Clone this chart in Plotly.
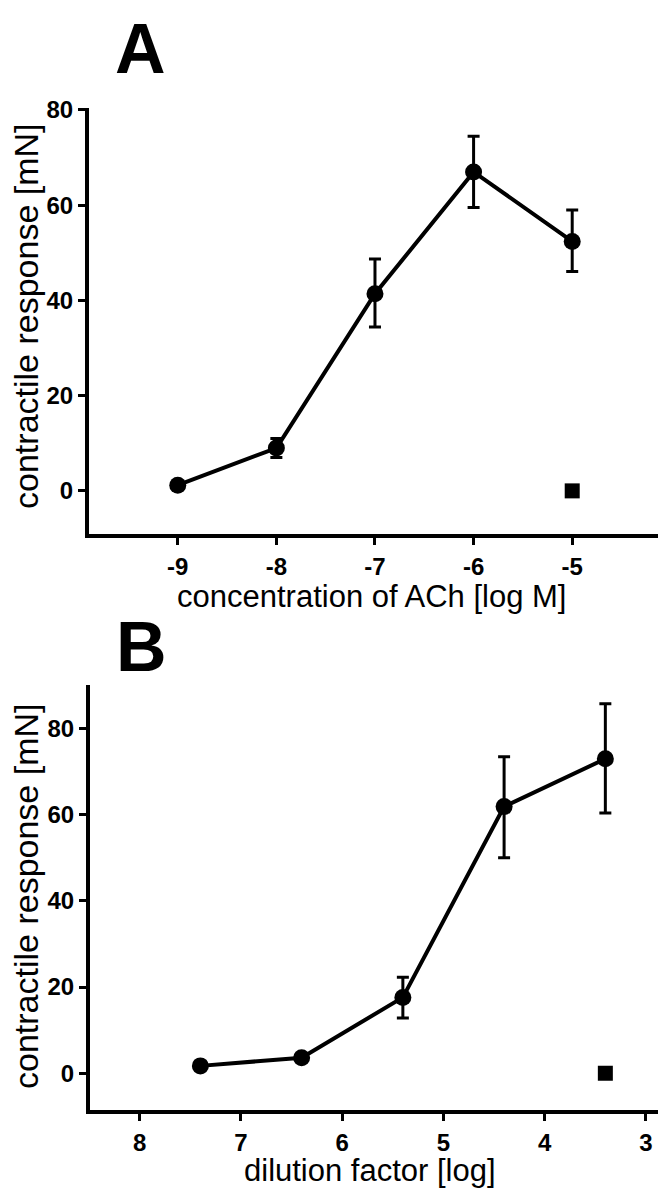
import plotly.graph_objects as go

# Panel A data
a_x = [-9, -8, -7, -6, -5]
a_y = [1.2, 9.0, 41.4, 67.0, 52.4]
a_err_plus = [0.0, 2.0, 7.3, 7.5, 6.6]
a_err_minus = [0.0, 2.0, 7.0, 7.5, 6.3]
a_sq_x = [-5]
a_sq_y = [0]
a_xticks = [-9, -8, -7, -6, -5]
a_xticktext = ["-9", "-8", "-7", "-6", "-5"]
a_yticks = [0, 20, 40, 60, 80]

# Panel B data
b_x = [7.4, 6.4, 5.4, 4.4, 3.4]
b_y = [1.7, 3.6, 17.6, 61.9, 73.0]
b_err_plus = [0.0, 0.0, 4.7, 11.6, 12.8]
b_err_minus = [0.0, 0.0, 4.8, 11.9, 12.6]
b_sq_x = [3.4]
b_sq_y = [0]
b_xticks = [8, 7, 6, 5, 4, 3]
b_yticks = [0, 20, 40, 60, 80]

# page body has an 8px margin: figure is 650x1180, drawn at (8, 8)
OFF = 8
W, H = 666 - 2 * OFF, 1196 - 2 * OFF
FAM = "Liberation Sans, Arial, sans-serif"
TICKFONT = dict(family=FAM, size=24, color="black", weight="bold")
XTITLEFONT = dict(family=FAM, size=31, color="black")
YTITLEFONT = dict(family=FAM, size=34, color="black")
LETTERFONT = dict(family=FAM, size=70, color="black", weight="bold")

fig = go.Figure()

def add_panel(xs, ys, ep, em, sqx, sqy, xa, ya):
    fig.add_trace(go.Scatter(
        x=xs, y=ys, mode="lines+markers",
        line=dict(color="black", width=4),
        marker=dict(symbol="circle", size=17, color="black"),
        error_y=dict(type="data", array=ep, arrayminus=em, symmetric=False,
                     color="black", thickness=3, width=6),
        xaxis=xa, yaxis=ya, showlegend=False))
    fig.add_trace(go.Scatter(
        x=sqx, y=sqy, mode="markers",
        marker=dict(symbol="square", size=15, color="black"),
        xaxis=xa, yaxis=ya, showlegend=False))

add_panel(a_x, a_y, a_err_plus, a_err_minus, a_sq_x, a_sq_y, "x", "y")
add_panel(b_x, b_y, b_err_plus, b_err_minus, b_sq_x, b_sq_y, "x2", "y2")

def px(v):
    return (v - OFF) / W

def py(v):
    return 1 - (v - OFF) / H

axis_common = dict(showgrid=False, zeroline=False, showline=True, linecolor="black",
                   linewidth=4, ticks="outside", ticklen=7, tickwidth=3, tickcolor="black",
                   tickfont=TICKFONT, mirror=False)

fig.update_layout(
    width=W, height=H,
    margin=dict(l=0, r=0, t=0, b=0),
    paper_bgcolor="white", plot_bgcolor="white",
    xaxis=dict(domain=[px(89), px(658)], range=[-9.9, -4.13], tickvals=a_xticks,
               ticktext=a_xticktext, ticklabelstandoff=1, anchor="y", **axis_common),
    yaxis=dict(domain=[py(527), py(97)], range=[-9, 80.4], tickvals=a_yticks,
               anchor="x", **axis_common),
    xaxis2=dict(domain=[px(90), px(658)], range=[8.49, 2.88], tickvals=b_xticks,
                ticklabelstandoff=1, anchor="y2", **axis_common),
    yaxis2=dict(domain=[py(1109), py(680)], range=[-8.5, 90.1], tickvals=b_yticks,
                anchor="x2", **axis_common),
)

annotations = [
    dict(text="A", x=px(140), y=py(37), font=LETTERFONT),
    dict(text="B", x=px(141), y=py(641), font=LETTERFONT),
    dict(text="contractile response [mN]", x=px(26), y=py(307), textangle=-90, font=YTITLEFONT),
    dict(text="contractile response [mN]", x=px(26), y=py(893), textangle=-90, font=YTITLEFONT),
    dict(text="concentration of ACh [log M]", x=px(371), y=py(590), font=XTITLEFONT),
    dict(text="dilution factor [log]", x=px(370), y=py(1170), font=XTITLEFONT),
]
for a in annotations:
    a.update(xref="paper", yref="paper", showarrow=False, xanchor="center", yanchor="middle")
fig.update_layout(annotations=annotations)

fig.write_html("out.html")
